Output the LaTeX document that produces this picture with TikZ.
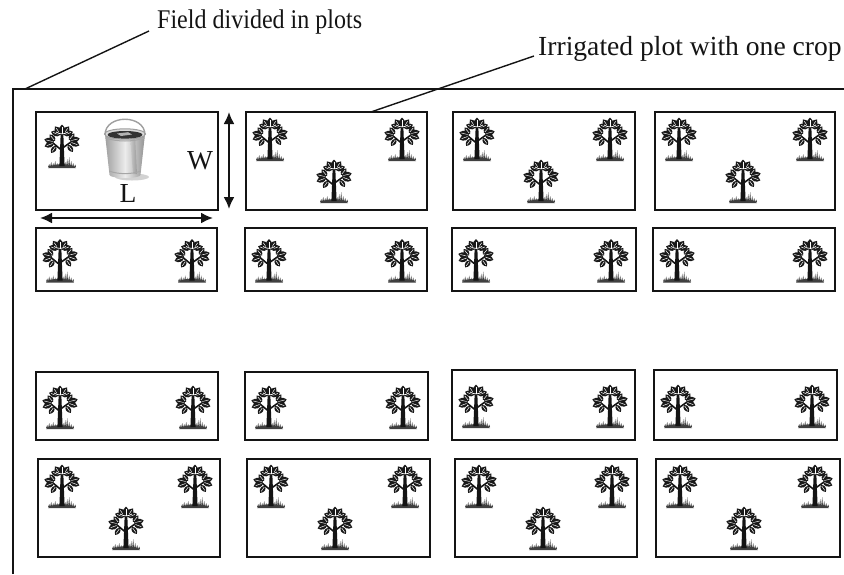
\documentclass[tikz,border=0pt]{standalone}
\usepackage{fontspec}
\setmainfont{Liberation Serif}
\newfontfamily\narrowserif[FakeStretch=0.89]{Liberation Serif}
\usetikzlibrary{arrows.meta,calc}
\definecolor{ink}{gray}{0.08}
\definecolor{leafink}{gray}{0.1}
\definecolor{grassink}{gray}{0.25}
\tikzset{
  fieldline/.style={draw=ink, line width=1.7pt},
  plotbox/.style={draw=ink, line width=1.8pt, inner sep=0pt, outer sep=0pt, anchor=north west},
  leader/.style={draw=ink, line width=1.4pt},
  notetext/.style={inner sep=0pt, anchor=base west, text=ink},
  dimtext/.style={font=\fontsize{27.5}{30}\selectfont, inner sep=0pt, text=ink},
  dimarrow/.style={draw=ink, line width=2pt, {Latex[length=12pt,width=11pt]}-{Latex[length=12pt,width=11pt]}},
  % one pointed leaf with a pale midrib, pointing along +x
  leaf/.pic={
    \fill[leafink] (0,0) .. controls (2.2,-4) and (7,-3.8) .. (10,0) .. controls (7,3.8) and (2.2,4) .. (0,0) -- cycle;
    \draw[white, line width=0.5pt] (1.5,0) -- (7.8,0);
  },
  % small tree standing on a grass tuft; origin at the top centre, y grows downwards
  croptree/.pic={
    \fill[grassink] (-14,47) .. controls (-10,42) and (10,42) .. (14,47) -- cycle;
    \foreach \gx/\gh in {-13/3,-11/5,-9/4,-7/6,-5/4,-3/3,3/5,5/8,7/10,9/6,11/4,13/2.5}
      \fill[grassink] ({\gx-1},46) -- ({\gx+0.3},{46-\gh}) -- ({\gx+1},46) -- cycle;
    \fill[ink] (-1.3,12) -- (1.3,12) -- (2.6,45) -- (-2.6,45) -- cycle;
    \draw[ink, line width=1.6pt, line cap=round] (-0.6,29) -- (-9,22);
    \draw[ink, line width=1.6pt, line cap=round] (0.6,27) -- (9,21);
    % left cluster
    \pic[rotate=165] at (-8,21) {leaf};
    \pic[rotate=200] at (-8,22) {leaf};
    \pic[rotate=235, scale=0.85] at (-6,25) {leaf};
    \pic[rotate=130, scale=0.85] at (-7,20) {leaf};
    % right cluster
    \pic[rotate=15] at (8,20) {leaf};
    \pic[rotate=-20] at (8,21) {leaf};
    \pic[rotate=-55, scale=0.85] at (6,24) {leaf};
    \pic[rotate=50, scale=0.85] at (7,19) {leaf};
    % crown
    \pic[rotate=160, scale=0.95] at (-2,14) {leaf};
    \pic[rotate=20, scale=0.95] at (2,14) {leaf};
    \pic[rotate=125, scale=1.05] at (-1,14) {leaf};
    \pic[rotate=55, scale=1.05] at (1,14) {leaf};
    \pic[rotate=90, scale=1.15] at (0,15) {leaf};
    \draw[white, line width=0.7pt] (-6,11) .. controls (-2,13.5) and (2,13.5) .. (6,11);
  },
  % tin bucket; origin at the centre of the rim
  bucket/.pic={
    \fill[gray!35] (7,43) ellipse [x radius=17, y radius=3.5];
    \shade[left color=gray!75, right color=gray!85, middle color=gray!15]
      (-20,0) -- (-15.5,41) arc[start angle=180, end angle=0, x radius=15.5, y radius=3] -- (20,0) -- cycle;
    \shade[left color=gray!40, right color=gray!80] (5,2) -- (8,40) -- (12,40) -- (10,2) -- cycle;
    \draw[gray!70, line width=1pt] (-19.6,4) .. controls (-8,8) and (8,8) .. (19.6,4);
    \draw[gray!70, line width=1pt] (-15.9,37) .. controls (-7,40.5) and (7,40.5) .. (15.9,37);
    \filldraw[fill=gray!30, draw=gray!75, line width=1pt] (0,0) ellipse [x radius=20.5, y radius=5.2];
    \fill[black!80] (0,0.8) ellipse [x radius=17.5, y radius=3.8];
    \fill[gray!60] (-8,-0.5) -- (3,-1.8) -- (7,0.5) -- (-4,2) -- cycle;
    \draw[gray!75, line width=1.4pt] (-20,1) .. controls (-20,-20) and (20,-20) .. (20,1);
  }
}
\begin{document}
\begin{tikzpicture}[x=1pt, y=-1pt]
  \useasboundingbox (0,0) rectangle (844,574);

  % field outline (open to the right and below)
  \coordinate (fieldbl) at (13,574);
  \coordinate (fieldtl) at (13,89);
  \coordinate (fieldtr) at (844,89);
  \draw[fieldline] (fieldbl) -- (fieldtl) -- (fieldtr);

  % plots
  \foreach \nm/\xa/\ya/\xb/\yb in {
      p11/36/112/218/210, p12/246/112/427/210, p13/453/112/635/210, p14/655/112/835/210,
      p21/36/228/217/291, p22/245/228/427/291, p23/452/228/636/291, p24/653/228/835/291,
      p31/36/372/218/440, p32/245/372/428/440, p33/452/370/635/440, p34/654/370/837/440,
      p41/38/459/220/557, p42/247/459/430/557, p43/455/459/637/557, p44/656/459/840/557}
    \node[plotbox, minimum width={(\xb-\xa)*1pt}, minimum height={(\yb-\ya)*1pt}] (\nm) at (\xa,\ya) {};

  % plots with three trees
  \foreach \xa/\ya/\xb in {246/112/427, 453/112/635, 655/112/835,
                           38/459/220, 247/459/430, 455/459/637, 656/459/840} {
    \pic at ({\xa+24},{\ya+2}) {croptree};
    \pic at ({\xb-25},{\ya+2}) {croptree};
    \pic at ({\xa+88},{\ya+44}) {croptree};
  }

  % plots with two trees
  \foreach \xa/\ya/\xb/\yb in {36/228/217/291, 245/228/427/291, 452/228/636/291, 653/228/835/291,
                               36/372/218/440, 245/372/428/440, 452/370/635/440, 654/370/837/440} {
    \pic at ({\xa+24},{(\ya+\yb)/2-24}) {croptree};
    \pic at ({\xb-25},{(\ya+\yb)/2-24}) {croptree};
  }

  % the measured plot
  \pic at (62,121) {croptree};
  \pic at (125,134) {bucket};
  \node[dimtext] (wlabel) at (200,161) {W};
  \node[dimtext] (llabel) at (128,193) {L};
  \coordinate (wtop) at (229,112);
  \coordinate (wbot) at (229,209);
  \draw[dimarrow] (wtop) -- (wbot);
  \coordinate (lleft) at (40,218);
  \coordinate (lright) at (213,218);
  \draw[dimarrow] (lleft) -- (lright);

  % callouts
  \node[notetext, font=\narrowserif\fontsize{27}{30}\selectfont] (fieldnote) at (157,28) {Field divided in plots};
  \coordinate (fieldtap) at (25,89);
  \coordinate (fieldnotefoot) at (149,31);
  \draw[leader] (fieldtap) -- (fieldnotefoot);

  \node[notetext, font=\fontsize{27.6}{30}\selectfont] (cropnote) at (538,55) {Irrigated plot with one crop};
  \coordinate (croptap) at ($(p12.north west)!0.69!(p12.north east)$);
  \coordinate (cropnotefoot) at (534,56);
  \draw[leader] (croptap) -- (cropnotefoot);
\end{tikzpicture}
\end{document}
